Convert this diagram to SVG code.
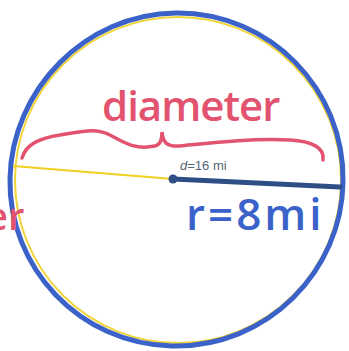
<svg xmlns="http://www.w3.org/2000/svg" width="349" height="351" viewBox="0 0 349 351">
<style>
.pink{fill:#e2536f;font-family:"Open Sans","Liberation Sans",sans-serif;font-weight:600;}
.blue{fill:#3a62c9;font-family:"Open Sans","Liberation Sans",sans-serif;font-weight:600;}
.small{fill:#556677;font-family:"Liberation Sans",sans-serif;font-size:13px;}
</style>
<rect width="349" height="351" fill="#ffffff"/>
<g id="yellow-circle"><ellipse cx="178" cy="180" rx="163" ry="163" fill="none" stroke="#f0d43a" stroke-width="2"/></g>
<g id="blue-circle"><path d="M176,13 C270,12 345,90 343,182 C342,270 268,348 172,346 C80,344 8,268 10,178 C12,90 85,14 176,13 Z" fill="none" stroke="#3a62c9" stroke-width="5"/></g>
<g id="connectors">
<line x1="13" y1="166" x2="173" y2="179" stroke="#f0d020" stroke-width="2"/>
<line x1="173" y1="179" x2="340" y2="187" stroke="#2d4f86" stroke-width="5" stroke-linecap="round"/>
<circle cx="173" cy="179" r="4.5" fill="#2d4f86"/>
<path d="M22,158 C26,144 40,138 60,135 C80,132 95,127 110,135 C125,143 135,150 155,146 C160,145 162,140 162,132 C163,142 166,147 180,146 C210,143 250,138 290,140 C312,141 325,148 323,160" fill="none" stroke="#e2536f" stroke-width="3.5" stroke-linecap="round"/>
</g>
<g id="label-diameter"><text class="pink" x="102" y="121" font-size="42" letter-spacing="-1">diameter</text></g>
<g id="label-d"><text class="small" x="180" y="170"><tspan font-style="italic">d</tspan>=16 mi</text></g>
<g id="label-r"><text class="blue" x="186" y="230" font-size="44" letter-spacing="3">r=8mi</text></g>
<g id="label-er"><text class="pink" x="-14" y="230" font-size="38">er</text></g>
</svg>
